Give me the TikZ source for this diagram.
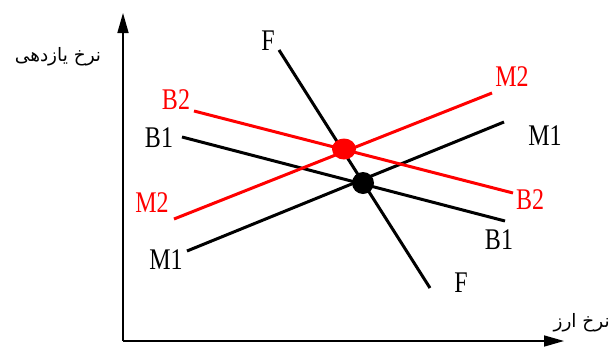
\documentclass[tikz,border=0pt]{standalone}
\usepackage{fontspec}
\setmainfont{Liberation Serif}
\newfontfamily\labelfont[FakeStretch=0.8]{Liberation Serif}
\newfontfamily\persianfont[Script=Arabic]{DejaVu Sans}
\TeXXeTstate=1
\usetikzlibrary{arrows.meta}

\begin{document}
\begin{tikzpicture}[x=1pt,y=-1pt,
  curve/.style={line width=3pt},
  redcurve/.style={curve,red},
  lbl/.style={font=\labelfont\fontsize{30}{30}\selectfont,inner sep=0pt},
  redlbl/.style={lbl,red},
  axislabel/.style={font=\persianfont\fontsize{18.5}{18.5}\selectfont,inner sep=0pt},
  axis/.style={line width=1.6pt,-{Triangle[length=20pt,width=11pt]}}]
  \useasboundingbox (0,0) rectangle (611,354);
  % axes
  \coordinate (O) at (123,341);
  \coordinate (Ytip) at (123,13);
  \coordinate (Xtip) at (564,341);
  \draw[axis] (O) -- (Ytip);
  \draw[axis] (O) -- (Xtip);
  \node[axislabel] (ylab) at (58,57) {\beginR نرخ یازدهی\endR};
  \node[axislabel,anchor=east] (xlab) at (610,323) {\beginR نرخ ارز\endR};
  % curve ends
  \coordinate (F1) at (279,50);
  \coordinate (F2) at (430,288);
  \coordinate (B2a) at (194,111);
  \coordinate (B2b) at (513,193);
  \coordinate (B1a) at (182,137);
  \coordinate (B1b) at (505,221);
  \coordinate (M2a) at (174,219);
  \coordinate (M2b) at (492,93);
  \coordinate (M1a) at (187,251);
  \coordinate (M1b) at (504,122);
  % curves
  \draw[curve] (B1a) -- (B1b);
  \draw[curve] (M1a) -- (M1b);
  \draw[curve] (F1) -- (F2);
  \draw[redcurve] (B2a) -- (B2b);
  \draw[redcurve] (M2a) -- (M2b);
  % equilibria
  \fill (363,183) circle (11);
  \fill[red] (344,149) ellipse (12 and 10.5);
  % labels
  \node[lbl] (Ftop) at (268,41) {F};
  \node[lbl] (Fbot) at (461,283) {F};
  \node[redlbl] (B2l) at (176,100) {B2};
  \node[redlbl] (B2r) at (530,200) {B2};
  \node[lbl] (B1l) at (159,138) {B1};
  \node[lbl] (B1r) at (499,240) {B1};
  \node[redlbl] (M2l) at (152,203) {M2};
  \node[redlbl] (M2r) at (512,77) {M2};
  \node[lbl] (M1l) at (166,260) {M1};
  \node[lbl] (M1r) at (545,136) {M1};
\end{tikzpicture}
\end{document}
